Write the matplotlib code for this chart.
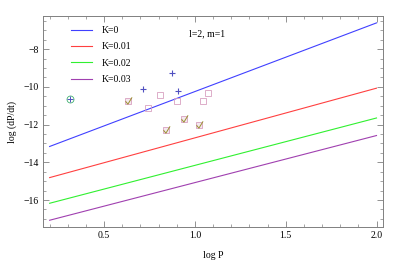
import numpy as np
import matplotlib.pyplot as plt
from matplotlib.path import Path
from matplotlib.ticker import MultipleLocator

plt.rcParams['font.family'] = ['Liberation Serif', 'DejaVu Serif']
plt.rcParams['mathtext.fontset'] = 'stix'

# model lines: log(dP/dt) at log P = 0.2 and 2.0
line_x = [0.2, 2.0]
k_labels = ["K=0", "K=0.01", "K=0.02", "K=0.03"]
k_start = [-13.16, -14.81, -16.17, -17.07]
k_end = [-6.61, -10.07, -11.65, -12.58]
k_colors = ["#4040ff", "#ff4040", "#30f030", "#a040b0"]

# observed points
plus_x = [0.712, 0.875, 0.905]
plus_y = [-10.12, -9.27, -10.20]
sq_x = [0.809, 0.744, 0.902, 1.042, 1.072]
sq_y = [-10.43, -11.11, -10.74, -10.74, -10.34]
chk_x = [0.631, 0.939, 0.842, 1.024]
chk_y = [-10.75, -11.69, -12.29, -12.02]

fig = plt.figure(figsize=(3.99, 2.64), dpi=100)
ax = fig.add_axes([0.108, 0.140, 0.852, 0.799])

for lab, y0, y1, c in zip(k_labels, k_start, k_end, k_colors):
    ax.plot(line_x, [y0, y1], color=c, lw=0.8, label=lab)

ax.plot(plus_x, plus_y, ls="none", marker="+", ms=5, mew=0.8, color="#5050c0")
ax.plot(sq_x, sq_y, ls="none", marker="s", ms=4, mew=0.6, mfc="none", mec="#d8a0c0")

check = Path([(-0.5, 0.05), (-0.1, -0.45), (0.6, 0.7)], [Path.MOVETO, Path.LINETO, Path.LINETO])
ax.plot(chk_x, chk_y, ls="none", marker="s", ms=4, mew=0.6, mfc="#f4e8ee", mec="#d8a0c0")
ax.plot(chk_x, chk_y, ls="none", marker=check, ms=6, mew=0.7, mfc="none", mec="#9a9030")

# odd symbol under the legend
ax.plot([0.313], [-10.62], ls="none", marker="o", ms=5, mew=0.6, mfc="none", mec="#40b070")
ax.plot([0.313], [-10.62], ls="none", marker="+", ms=4, mew=0.7, color="#5050c0")

ax.legend(loc="upper left", bbox_to_anchor=(0.065, 0.98), frameon=False, fontsize=7,
          handlelength=2.2, labelspacing=0.75, handletextpad=1.0, borderaxespad=0.2)
ax.text(0.969, -7.2, "l=2, m=1", fontsize=7, va="center", ha="left")

ax.set_xlim(0.164, 2.036)
ax.set_ylim(-17.43, -6.25)
ax.xaxis.set_major_locator(MultipleLocator(0.5))
ax.xaxis.set_minor_locator(MultipleLocator(0.1))
ax.yaxis.set_major_locator(MultipleLocator(2))
ax.yaxis.set_minor_locator(MultipleLocator(0.5))
ax.tick_params(which="both", direction="in", top=True, right=True, labeltop=False,
               labelright=False, color="#808080", labelsize=7, pad=3)
ax.tick_params(which="major", length=4, width=0.6)
ax.tick_params(which="minor", length=2, width=0.5)
for s in ax.spines.values():
    s.set_color("#808080")
    s.set_linewidth(0.7)

ax.set_xlabel("log P", fontsize=7, labelpad=8)
ax.set_ylabel("log (dP/dt)", fontsize=7, labelpad=5)

fig.savefig("out.png", dpi=100)
